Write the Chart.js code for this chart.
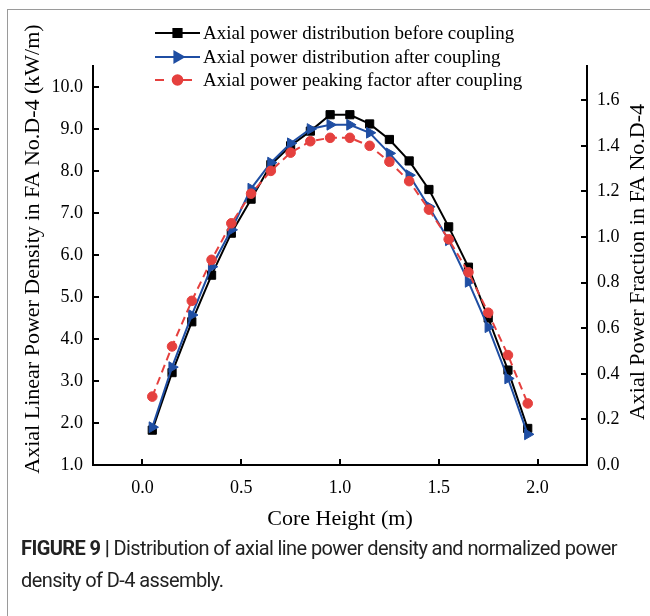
<!DOCTYPE html>
<html>
<head>
<meta charset="utf-8">
<script src="https://cdn.jsdelivr.net/npm/chart.js@4.4.0/dist/chart.umd.min.js"></script>
<style>
html, body { margin: 0; padding: 0; background: #fff; }
#wrap { position: relative; width: 650px; height: 616px; overflow: hidden; }
#frame { position: absolute; left: 7px; top: 9px; width: 700px; height: 700px;
  border-left: 1.5px solid #9a9a9a; border-top: 1.5px solid #9a9a9a; }
canvas { position: absolute; left: 0; top: 0; }
#caption { position: absolute; left: 21px; top: 532px; width: 640px; white-space: nowrap;
  font-family: Roboto, "Liberation Sans", sans-serif; font-size: 20px;
  line-height: 32px; color: #222; letter-spacing: -0.6px; }
#caption b { font-weight: 700; }
</style>
</head>
<body>
<div id="wrap">
  <div id="frame"></div>
  <canvas id="grafico" width="650" height="616"></canvas>
  <div id="caption"><b>FIGURE 9 |</b> Distribution of axial line power density and normalized power<br>density of D-4 assembly.</div>
</div>
<script>
const coreHeight = [0.05, 0.15, 0.25, 0.35, 0.45, 0.55, 0.65, 0.75, 0.85, 0.95,
                    1.05, 1.15, 1.25, 1.35, 1.45, 1.55, 1.65, 1.75, 1.85, 1.95];
const densityBefore = [1.83, 3.2, 4.41, 5.52, 6.52, 7.33, 8.15, 8.6, 8.95, 9.34,
                       9.34, 9.12, 8.75, 8.24, 7.56, 6.67, 5.71, 4.5, 3.26, 1.87];
const densityAfter = [1.9, 3.33, 4.57, 5.72, 6.6, 7.58, 8.2, 8.66, 9.0, 9.1,
                      9.1, 8.91, 8.42, 7.9, 7.15, 6.35, 5.36, 4.28, 3.06, 1.73];
const peakingAfter = [0.3, 0.52, 0.72, 0.9, 1.06, 1.19, 1.29, 1.37, 1.42, 1.435,
                      1.435, 1.4, 1.33, 1.245, 1.12, 0.99, 0.845, 0.668, 0.482, 0.27];
const xTicks = [0, 0.5, 1.0, 1.5, 2.0];
const leftTicks = [1, 2, 3, 4, 5, 6, 7, 8, 9, 10];
const rightTicks = [0, 0.2, 0.4, 0.6, 0.8, 1.0, 1.2, 1.4, 1.6];

const serif = '"Liberation Serif", "Times New Roman", serif';

const puntos = (ys) => coreHeight.map((x, i) => ({ x: x, y: ys[i] }));

const dataGrafico = {
    datasets: [
        {
            label: "Axial power distribution before coupling",
            data: puntos(densityBefore),
            yAxisID: "y",
            borderColor: "#000000",
            backgroundColor: "#000000",
            borderWidth: 2,
            pointStyle: "rect",
            pointRadius: 5.8,
            pointBorderWidth: 1,
            order: 3,
        },
        {
            label: "Axial power distribution after coupling",
            data: puntos(densityAfter),
            yAxisID: "y",
            borderColor: "#1f4ea3",
            backgroundColor: "#1f4ea3",
            borderWidth: 2,
            pointStyle: "triangle",
            pointRotation: 90,
            pointRadius: 6.2,
            pointBorderWidth: 1,
            order: 2,
        },
        {
            label: "Axial power peaking factor after coupling",
            data: puntos(peakingAfter),
            yAxisID: "y1",
            borderColor: "#e5403e",
            backgroundColor: "#e5403e",
            borderWidth: 2,
            borderDash: [8, 5],
            pointStyle: "circle",
            pointRadius: 4.8,
            pointBorderWidth: 1,
            order: 1,
        },
    ],
};

const ejeBase = {
    border: { display: true, color: "#000", width: 2 },
    grid: { drawOnChartArea: false, drawTicks: true, tickLength: -6, tickColor: "#000", lineWidth: 2 },
    ticks: { color: "#000", font: { family: serif, size: 18 } },
};

const leyenda = {
    id: "leyenda",
    afterDraw(chart) {
        const ctx = chart.ctx;
        const filas = [33, 57, 80];
        ctx.save();
        chart.data.datasets.forEach((ds, i) => {
            const y = filas[i];
            ctx.strokeStyle = ds.borderColor;
            ctx.lineWidth = 2;
            ctx.setLineDash(ds.borderDash ? [9, 19] : []);
            ctx.beginPath();
            ctx.moveTo(155, y);
            ctx.lineTo(200, y);
            ctx.stroke();
            if (ds.borderDash) {
                ctx.beginPath();
                ctx.moveTo(183, y);
                ctx.lineTo(191, y);
                ctx.stroke();
            }
            ctx.setLineDash([]);
            Chart.helpers.drawPoint(ctx, {
                pointStyle: ds.pointStyle,
                rotation: ds.pointRotation || 0,
                radius: ds.pointRadius,
                borderWidth: 1,
            }, 177.5, y);
            ctx.fillStyle = ds.backgroundColor;
            ctx.fill();
            ctx.fillStyle = "#000";
            ctx.font = "19px " + serif;
            ctx.textAlign = "left";
            ctx.textBaseline = "middle";
            ctx.fillText(ds.label, 203, y + 1);
        });
        // y axis titles, both read bottom to top
        ctx.font = "22px " + serif;
        ctx.textAlign = "center";
        ctx.textBaseline = "middle";
        ctx.fillStyle = "#000";
        ctx.save();
        ctx.translate(33, 249);
        ctx.rotate(-Math.PI / 2);
        ctx.fillText("Axial Linear Power Density in FA No.D-4 (kW/m)", 0, 0);
        ctx.restore();
        ctx.save();
        ctx.translate(638, 262);
        ctx.rotate(-Math.PI / 2);
        ctx.fillText("Axial Power Fraction in FA No.D-4", 0, 0);
        ctx.restore();
        ctx.restore();
    },
};

const configGrafico = {
    type: "line",
    data: dataGrafico,
    options: {
        responsive: false,
        animation: false,
        layout: { padding: { top: 66, bottom: 76, left: 0, right: 0 } },
        plugins: {
            legend: { display: false },
            tooltip: { enabled: false },
        },
        scales: {
            x: {
                ...ejeBase,
                type: "linear",
                position: "bottom",
                min: -0.25,
                max: 2.25,
                ticks: { ...ejeBase.ticks, padding: 18, callback: (v) => v.toFixed(1) },
                afterBuildTicks: (s) => { s.ticks = xTicks.map((v) => ({ value: v })); },
                afterFit: (s) => { s.height = 75; },
                title: {
                    display: true,
                    text: "Core Height (m)",
                    color: "#000",
                    font: { family: serif, size: 22 },
                    padding: { top: 0, bottom: 8 },
                },
            },
            y: {
                ...ejeBase,
                type: "linear",
                position: "left",
                min: 1,
                max: 10.5,
                ticks: { ...ejeBase.ticks, padding: 16, callback: (v) => v.toFixed(1) },
                afterBuildTicks: (s) => { s.ticks = leftTicks.map((v) => ({ value: v })); },
                afterFit: (s) => { s.width = 93; },
            },
            y1: {
                ...ejeBase,
                type: "linear",
                position: "right",
                min: 0,
                max: 1.75,
                ticks: { ...ejeBase.ticks, padding: 16, callback: (v) => v.toFixed(1) },
                afterBuildTicks: (s) => { s.ticks = rightTicks.map((v) => ({ value: v })); },
                afterFit: (s) => { s.width = 63; },
            },
        },
    },
    plugins: [leyenda],
};

const grafico = new Chart(document.getElementById("grafico"), configGrafico);
</script>
</body>
</html>
